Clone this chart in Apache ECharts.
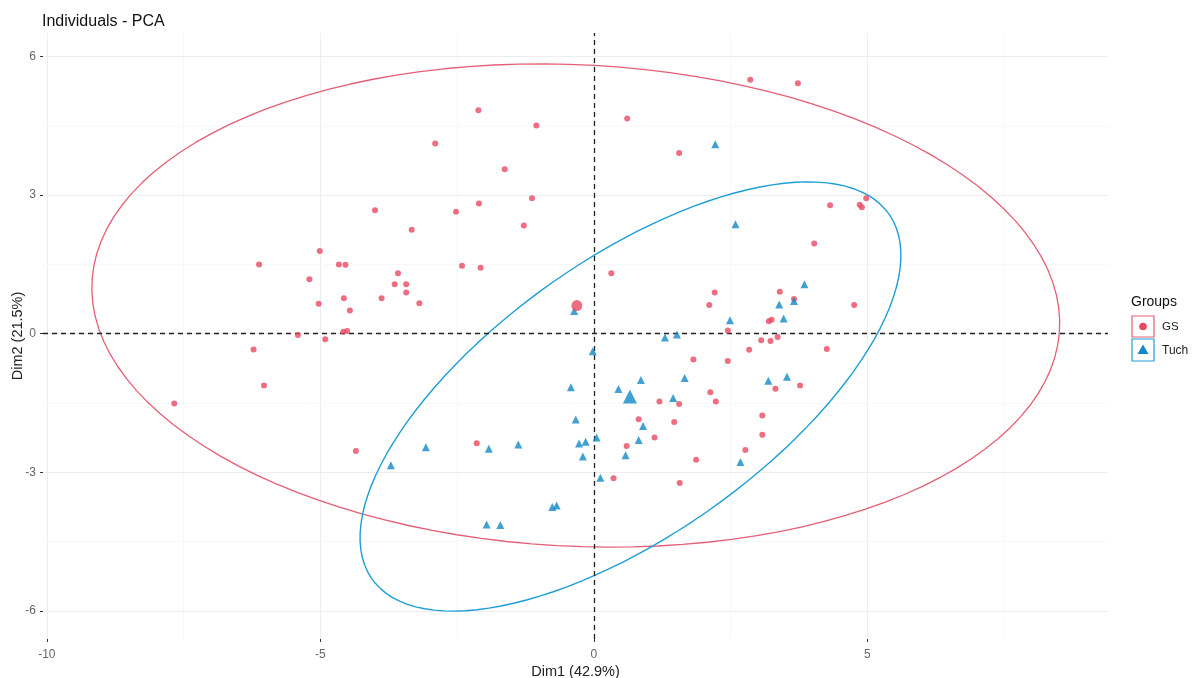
<!DOCTYPE html>
<html><head><meta charset="utf-8">
<script src="https://cdn.jsdelivr.net/npm/echarts@6/dist/echarts.min.js"></script>
<style>html,body{margin:0;padding:0;background:#fff}#chart{width:1192px;height:678px}</style>
</head><body><div id="chart"></div>
<script>
const groups = ['GS', 'Tuch'];
const gsX = [2.86,3.73,-2.11,-1.05,0.61,-2.90,1.56,-1.63,-1.13,-2.10,-2.52,-3.33,-1.28,-4.00,-5.01,-6.12,-4.66,-4.54,-3.58,-5.20,-3.64,-3.43,-3.43,-3.88,-4.57,-5.03,-4.46,-4.58,-4.51,-5.41,-4.91,-6.22,-6.03,-7.67,-4.35,-2.41,-2.07,-3.19,0.32,2.21,2.11,2.45,3.20,3.25,3.40,3.06,3.23,3.36,4.32,4.86,4.90,4.98,4.03,3.66,4.76,-2.14,1.82,2.45,2.84,3.32,2.13,2.23,1.20,1.56,0.82,1.47,1.11,0.60,0.36,1.57,1.87,3.08,3.08,2.77,4.26,3.77];
const gsY = [5.50,5.42,4.84,4.51,4.66,4.12,3.91,3.56,2.93,2.82,2.64,2.25,2.34,2.67,1.79,1.50,1.50,1.49,1.31,1.18,1.07,1.07,0.89,0.77,0.77,0.65,0.50,0.04,0.06,-0.03,-0.12,-0.34,-1.12,-1.51,-2.54,1.47,1.43,0.66,1.31,0.89,0.62,0.07,0.27,0.30,0.91,-0.14,-0.16,-0.07,2.78,2.79,2.74,2.93,1.95,0.75,0.62,-2.37,-0.56,-0.59,-0.35,-1.19,-1.27,-1.47,-1.47,-1.52,-1.85,-1.91,-2.25,-2.43,-3.13,-3.23,-2.73,-1.77,-2.19,-2.52,-0.33,-1.12];
const tuchX = [2.22,2.59,-0.36,2.49,3.39,1.30,1.52,3.85,3.66,3.47,-3.71,-0.02,-0.42,0.45,0.86,1.66,1.45,-0.33,0.90,0.82,0.05,-0.15,-0.27,-0.20,0.58,0.12,-3.07,-1.92,-1.38,-0.76,-0.68,-1.96,-1.71,2.68,3.19,3.53];
const tuchY = [4.10,2.37,0.49,0.29,0.63,-0.08,-0.02,1.07,0.71,0.33,-2.85,-0.38,-1.16,-1.20,-1.00,-0.96,-1.39,-1.86,-2.00,-2.30,-2.25,-2.34,-2.38,-2.66,-2.63,-3.12,-2.46,-2.49,-2.40,-3.75,-3.72,-4.13,-4.14,-2.78,-1.02,-0.93];
const centroidGS = [-0.31, 0.61];
const centroidTuch = [0.66, -1.36];
// ellipse outlines: [centreX, centreY, semiMajor, semiMinor, angleDeg]
const ellipseGS = [-0.33, 0.61, 8.86, 5.21, -3.8];
const ellipseTuch = [0.67, -1.36, 6.18, 2.80, 42.3];
const xTicks = [-10, -5, 0, 5];
const yTicks = [-6, -3, 0, 3, 6];
const xMajorGrid = [-10, -5, 0, 5];
const xMinorGrid = [-7.5, -2.5, 2.5, 7.5];
const yMajorGrid = [-6, -3, 0, 3, 6];
const yMinorGrid = [-4.5, -1.5, 1.5, 4.5];

const RED = '#E94A62', RED_LINE = '#E65E75';
const BLUE = '#1389C6', BLUE_LINE = '#1E9ED8';
const FONT = 'Liberation Sans, Arial, sans-serif';

function ellipsePts(e) {
  const [cx, cy, a, b, deg] = e;
  const p = deg * Math.PI / 180, pts = [];
  for (let i = 0; i <= 120; i++) {
    const t = i / 120 * 2 * Math.PI;
    pts.push([cx + a * Math.cos(t) * Math.cos(p) - b * Math.sin(t) * Math.sin(p),
              cy + a * Math.cos(t) * Math.sin(p) + b * Math.sin(t) * Math.cos(p)]);
  }
  return pts;
}
const zip = (xs, ys) => xs.map((x, i) => [x, ys[i]]);

const major = {color: '#ededed', width: 1, type: 'solid'};
const minor = {color: '#f6f6f6', width: 0.8, type: 'solid'};
const gridLines = [
  ...xMajorGrid.map(v => ({xAxis: v, lineStyle: major})),
  ...xMinorGrid.map(v => ({xAxis: v, lineStyle: minor})),
  ...yMajorGrid.map(v => ({yAxis: v, lineStyle: major})),
  ...yMinorGrid.map(v => ({yAxis: v, lineStyle: minor}))
];

const chart = echarts.init(document.getElementById('chart'));
chart.setOption({
  animation: false,
  backgroundColor: '#fff',
  title: {text: 'Individuals - PCA', left: 42, top: 14, padding: 0,
    textStyle: {fontFamily: FONT, fontSize: 16, fontWeight: 'normal', color: '#111'}},
  grid: {left: 43, right: 84, top: 33, bottom: 39, containLabel: false, outerBoundsMode: 'none'},
  xAxis: {type: 'value', min: -10.07, max: 9.40,
    name: 'Dim1 (42.9%)', nameLocation: 'middle', nameGap: 25, nameMoveOverlap: false,
    nameTextStyle: {fontFamily: FONT, fontSize: 14.5, color: '#222'},
    axisLine: {show: false, onZero: false},
    axisTick: {show: true, length: 3, customValues: xTicks, lineStyle: {color: '#333'}},
    axisLabel: {customValues: xTicks, margin: 10, fontFamily: FONT, fontSize: 12, color: '#666'},
    splitLine: {show: false}},
  yAxis: {type: 'value', min: -6.61, max: 6.51,
    name: 'Dim2 (21.5%)', nameLocation: 'middle', nameGap: 18, nameMoveOverlap: false,
    nameTextStyle: {fontFamily: FONT, fontSize: 14.5, color: '#222'},
    axisLine: {show: false, onZero: false},
    axisTick: {show: true, length: 3, customValues: yTicks, lineStyle: {color: '#333'}},
    axisLabel: {customValues: yTicks, margin: 7, fontFamily: FONT, fontSize: 12, color: '#666'},
    splitLine: {show: false}},
  series: [
    {type: 'scatter', data: [], silent: true, z: 0,
      markLine: {z: 0, silent: true, symbol: ['none', 'none'], label: {show: false}, data: gridLines}},
    {type: 'line', name: groups[0] + ' ellipse', data: ellipsePts(ellipseGS), showSymbol: false, z: 2,
      lineStyle: {color: RED_LINE, width: 1.3}},
    {type: 'line', name: groups[1] + ' ellipse', data: ellipsePts(ellipseTuch), showSymbol: false, z: 2,
      lineStyle: {color: BLUE_LINE, width: 1.4}},
    {type: 'scatter', data: [], silent: true, z: 3,
      markLine: {z: 3, silent: true, symbol: ['none', 'none'], label: {show: false},
        lineStyle: {color: '#222', width: 1.3, type: [5, 4]},
        data: [{xAxis: 0}, {yAxis: 0}]}},
    {type: 'scatter', name: groups[0], data: zip(gsX, gsY), symbol: 'circle', symbolSize: 6, z: 4,
      itemStyle: {color: RED}},
    {type: 'scatter', name: groups[1], data: zip(tuchX, tuchY), symbol: 'triangle', symbolSize: 8, z: 4,
      itemStyle: {color: BLUE}},
    {type: 'scatter', name: groups[0], data: [centroidGS], symbol: 'circle', symbolSize: 11, z: 5,
      itemStyle: {color: RED}},
    {type: 'scatter', name: groups[1], data: [centroidTuch], symbol: 'triangle', symbolSize: 14, z: 5,
      itemStyle: {color: BLUE}}
  ],
  graphic: [
    {type: 'text', x: 1131, y: 302, style: {text: 'Groups', fontFamily: FONT, fontSize: 14, fill: '#111', verticalAlign: 'middle'}},
    {type: 'rect', shape: {x: 1132, y: 316, width: 22, height: 21}, style: {fill: '#fff', stroke: RED_LINE, lineWidth: 1.2}},
    {type: 'circle', shape: {cx: 1143, cy: 326.5, r: 3.8}, style: {fill: RED}},
    {type: 'text', x: 1162, y: 327, style: {text: groups[0], fontFamily: FONT, fontSize: 11.5, fill: '#222', verticalAlign: 'middle'}},
    {type: 'rect', shape: {x: 1132, y: 339, width: 22, height: 22}, style: {fill: '#fff', stroke: BLUE_LINE, lineWidth: 1.2}},
    {type: 'polygon', shape: {points: [[1143, 344.5], [1148.5, 354], [1137.5, 354]]}, style: {fill: BLUE}},
    {type: 'text', x: 1162, y: 351, style: {text: groups[1], fontFamily: FONT, fontSize: 12, fill: '#222', verticalAlign: 'middle'}}
  ]
});
</script>
</body></html>
